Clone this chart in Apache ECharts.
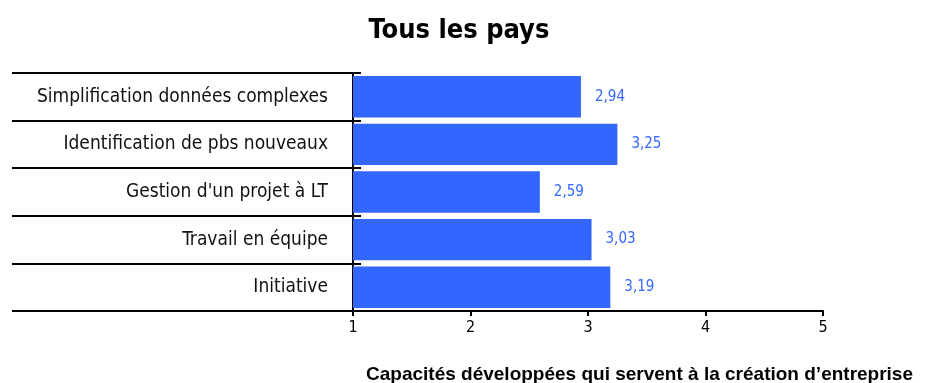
<!DOCTYPE html>
<html>
<head>
<meta charset="utf-8">
<script src="https://cdn.jsdelivr.net/npm/echarts@6/dist/echarts.min.js"></script>
<style>
  html, body { margin: 0; padding: 0; background: #ffffff; }
  #chart { width: 929px; height: 383px; }
</style>
</head>
<body>
<div id="chart"></div>
<script>
// Categories listed bottom to top along the vertical axis
const categories = [
  'Initiative',
  'Travail en équipe',
  "Gestion d'un projet à LT",
  'Identification de pbs nouveaux',
  'Simplification données complexes'
];
const scores = [3.19, 3.03, 2.59, 3.25, 2.94];
const xTicks = [1, 2, 3, 4, 5];

const chart = echarts.init(document.getElementById('chart'), null, { renderer: 'canvas' });

const fmt = v => v.toFixed(2).replace('.', ',');

chart.setOption({
  animation: false,
  backgroundColor: '#ffffff',
  title: [
    {
      text: 'Tous les pays',
      left: 454, top: 12, textAlign: 'center',
      textStyle: { fontFamily: 'DejaVu Sans Condensed', fontWeight: 'bold', fontSize: 27, color: '#000' }
    },
    {
      text: 'Capacités développées qui servent à la création d\u2019entreprise',
      right: 11, top: 360,
      textStyle: { fontFamily: 'Liberation Sans', fontWeight: 'bold', fontSize: 19, color: '#000' }
    }
  ],
  grid: { left: 353, right: 106, top: 73, bottom: 72, containLabel: false },
  xAxis: {
    type: 'value',
    min: xTicks[0], max: xTicks[xTicks.length - 1], interval: 1,
    axisLine: { show: true, lineStyle: { color: '#000', width: 2 } },
    axisTick: { show: true, length: 5, lineStyle: { color: '#000', width: 2 } },
    axisLabel: { fontFamily: 'DejaVu Sans Condensed', fontSize: 16, color: '#000', margin: 9 },
    splitLine: { show: false }
  },
  yAxis: [
    {
      type: 'category', data: categories,
      axisLine: { show: true, lineStyle: { color: '#000', width: 2 } },
      axisTick: { show: true, length: 341, lineStyle: { color: '#000', width: 2 } },
      axisLabel: { fontFamily: 'DejaVu Sans Condensed', fontSize: 19, color: '#111', margin: 25 }
    },
    {
      type: 'category', data: categories, position: 'left',
      axisLine: { show: false },
      axisTick: { show: true, inside: true, length: 8, lineStyle: { color: '#000', width: 2 } },
      axisLabel: { show: false }
    }
  ],
  series: [{
    type: 'bar',
    data: scores,
    yAxisIndex: 0,
    barCategoryGap: '13%',
    itemStyle: { color: '#3366ff' },
    label: {
      show: true, position: 'right', distance: 14,
      formatter: p => fmt(p.value),
      fontFamily: 'DejaVu Sans Condensed', fontSize: 15, color: '#3366ff'
    }
  }]
});
</script>
</body>
</html>
